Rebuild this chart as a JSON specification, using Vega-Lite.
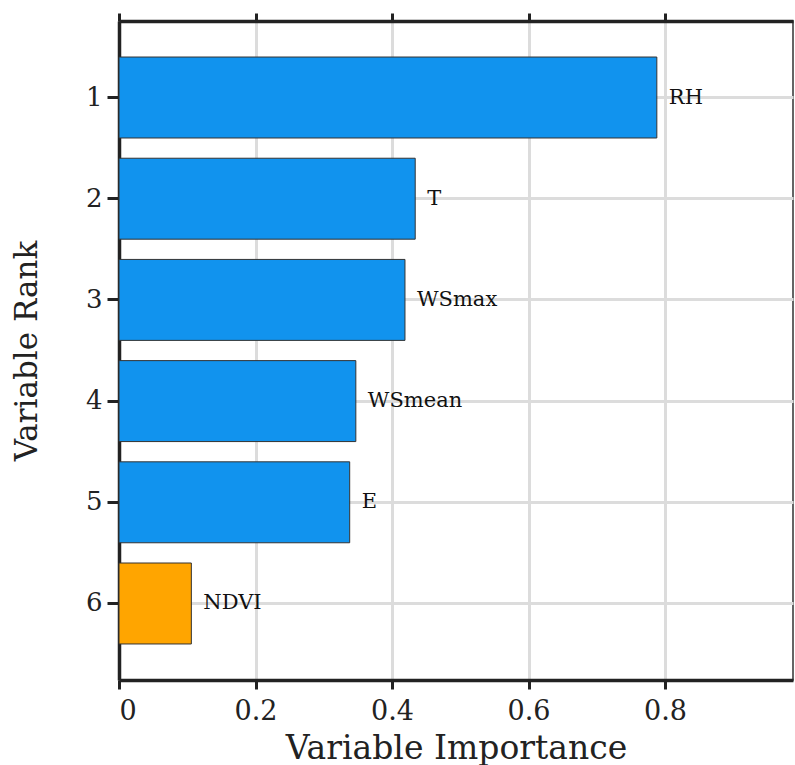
{
  "$schema": "https://vega.github.io/schema/vega-lite/v6.json",
  "autosize": {"type": "none"},
  "padding": {"left": 119, "top": 21, "right": 2, "bottom": 85},
  "width": 674,
  "height": 659,
  "background": "white",
  "config": {
    "view": {"stroke": "#333333", "strokeWidth": 1.5},
    "font": "DejaVu Serif"
  },
  "data": {
    "values": [
      {"rank": 1, "variable": "RH", "importance": 0.788, "group": "met"},
      {"rank": 2, "variable": "T", "importance": 0.434, "group": "met"},
      {"rank": 3, "variable": "WSmax", "importance": 0.419, "group": "met"},
      {"rank": 4, "variable": "WSmean", "importance": 0.347, "group": "met"},
      {"rank": 5, "variable": "E", "importance": 0.338, "group": "met"},
      {"rank": 6, "variable": "NDVI", "importance": 0.106, "group": "veg"}
    ]
  },
  "encoding": {
    "y": {
      "field": "rank",
      "type": "ordinal",
      "scale": {"paddingInner": 0.2, "paddingOuter": 0.356},
      "axis": {
        "title": "Variable Rank",
        "titleFont": "DejaVu Serif",
        "titleFontSize": 31,
        "titleFontWeight": "normal",
        "titleColor": "#222222",
        "titlePadding": 42,
        "labelFont": "DejaVu Serif",
        "labelFontSize": 26,
        "labelColor": "#222222",
        "labelAngle": 0,
        "labelPadding": 5,
        "domainColor": "#222222",
        "domainWidth": 3.5,
        "tickColor": "#222222",
        "tickWidth": 3,
        "tickSize": 12,
        "grid": true,
        "gridColor": "#dcdcdc",
        "gridWidth": 3
      }
    }
  },
  "layer": [
    {
      "mark": {"type": "bar", "stroke": "#333333", "strokeWidth": 1},
      "encoding": {
        "x": {
          "field": "importance",
          "type": "quantitative",
          "scale": {"domain": [0, 0.9875], "nice": false},
          "axis": {
            "orient": "bottom",
            "values": [0, 0.2, 0.4, 0.6, 0.8],
            "format": ".1~f",
            "title": "Variable Importance",
            "titleFont": "DejaVu Serif",
            "titleFontSize": 33,
            "titleFontWeight": "normal",
            "titleColor": "#222222",
            "titlePadding": 8,
            "labelFont": "DejaVu Serif",
            "labelFontSize": 27,
            "labelColor": "#222222",
            "labelPadding": 9,
            "domainColor": "#222222",
            "domainWidth": 3.5,
            "tickColor": "#222222",
            "tickWidth": 3,
            "tickSize": 9,
            "grid": true,
            "gridColor": "#dcdcdc",
            "gridWidth": 3
          }
        },
        "color": {
          "field": "group",
          "type": "nominal",
          "scale": {"domain": ["met", "veg"], "range": ["#1193EE", "#FFA500"]},
          "legend": null
        }
      }
    },
    {
      "mark": {"type": "text", "align": "left", "baseline": "middle", "dx": 12, "fontSize": 21, "font": "DejaVu Serif", "color": "#111111"},
      "encoding": {
        "x": {
          "field": "importance",
          "type": "quantitative",
          "axis": {
            "orient": "top",
            "values": [0, 0.2, 0.4, 0.6, 0.8],
            "labels": false,
            "title": null,
            "grid": false,
            "domainColor": "#222222",
            "domainWidth": 3.5,
            "tickColor": "#222222",
            "tickWidth": 3,
            "tickSize": 8,
            "zindex": 1
          }
        },
        "text": {"field": "variable"}
      }
    }
  ],
  "resolve": {"axis": {"x": "independent"}}
}
